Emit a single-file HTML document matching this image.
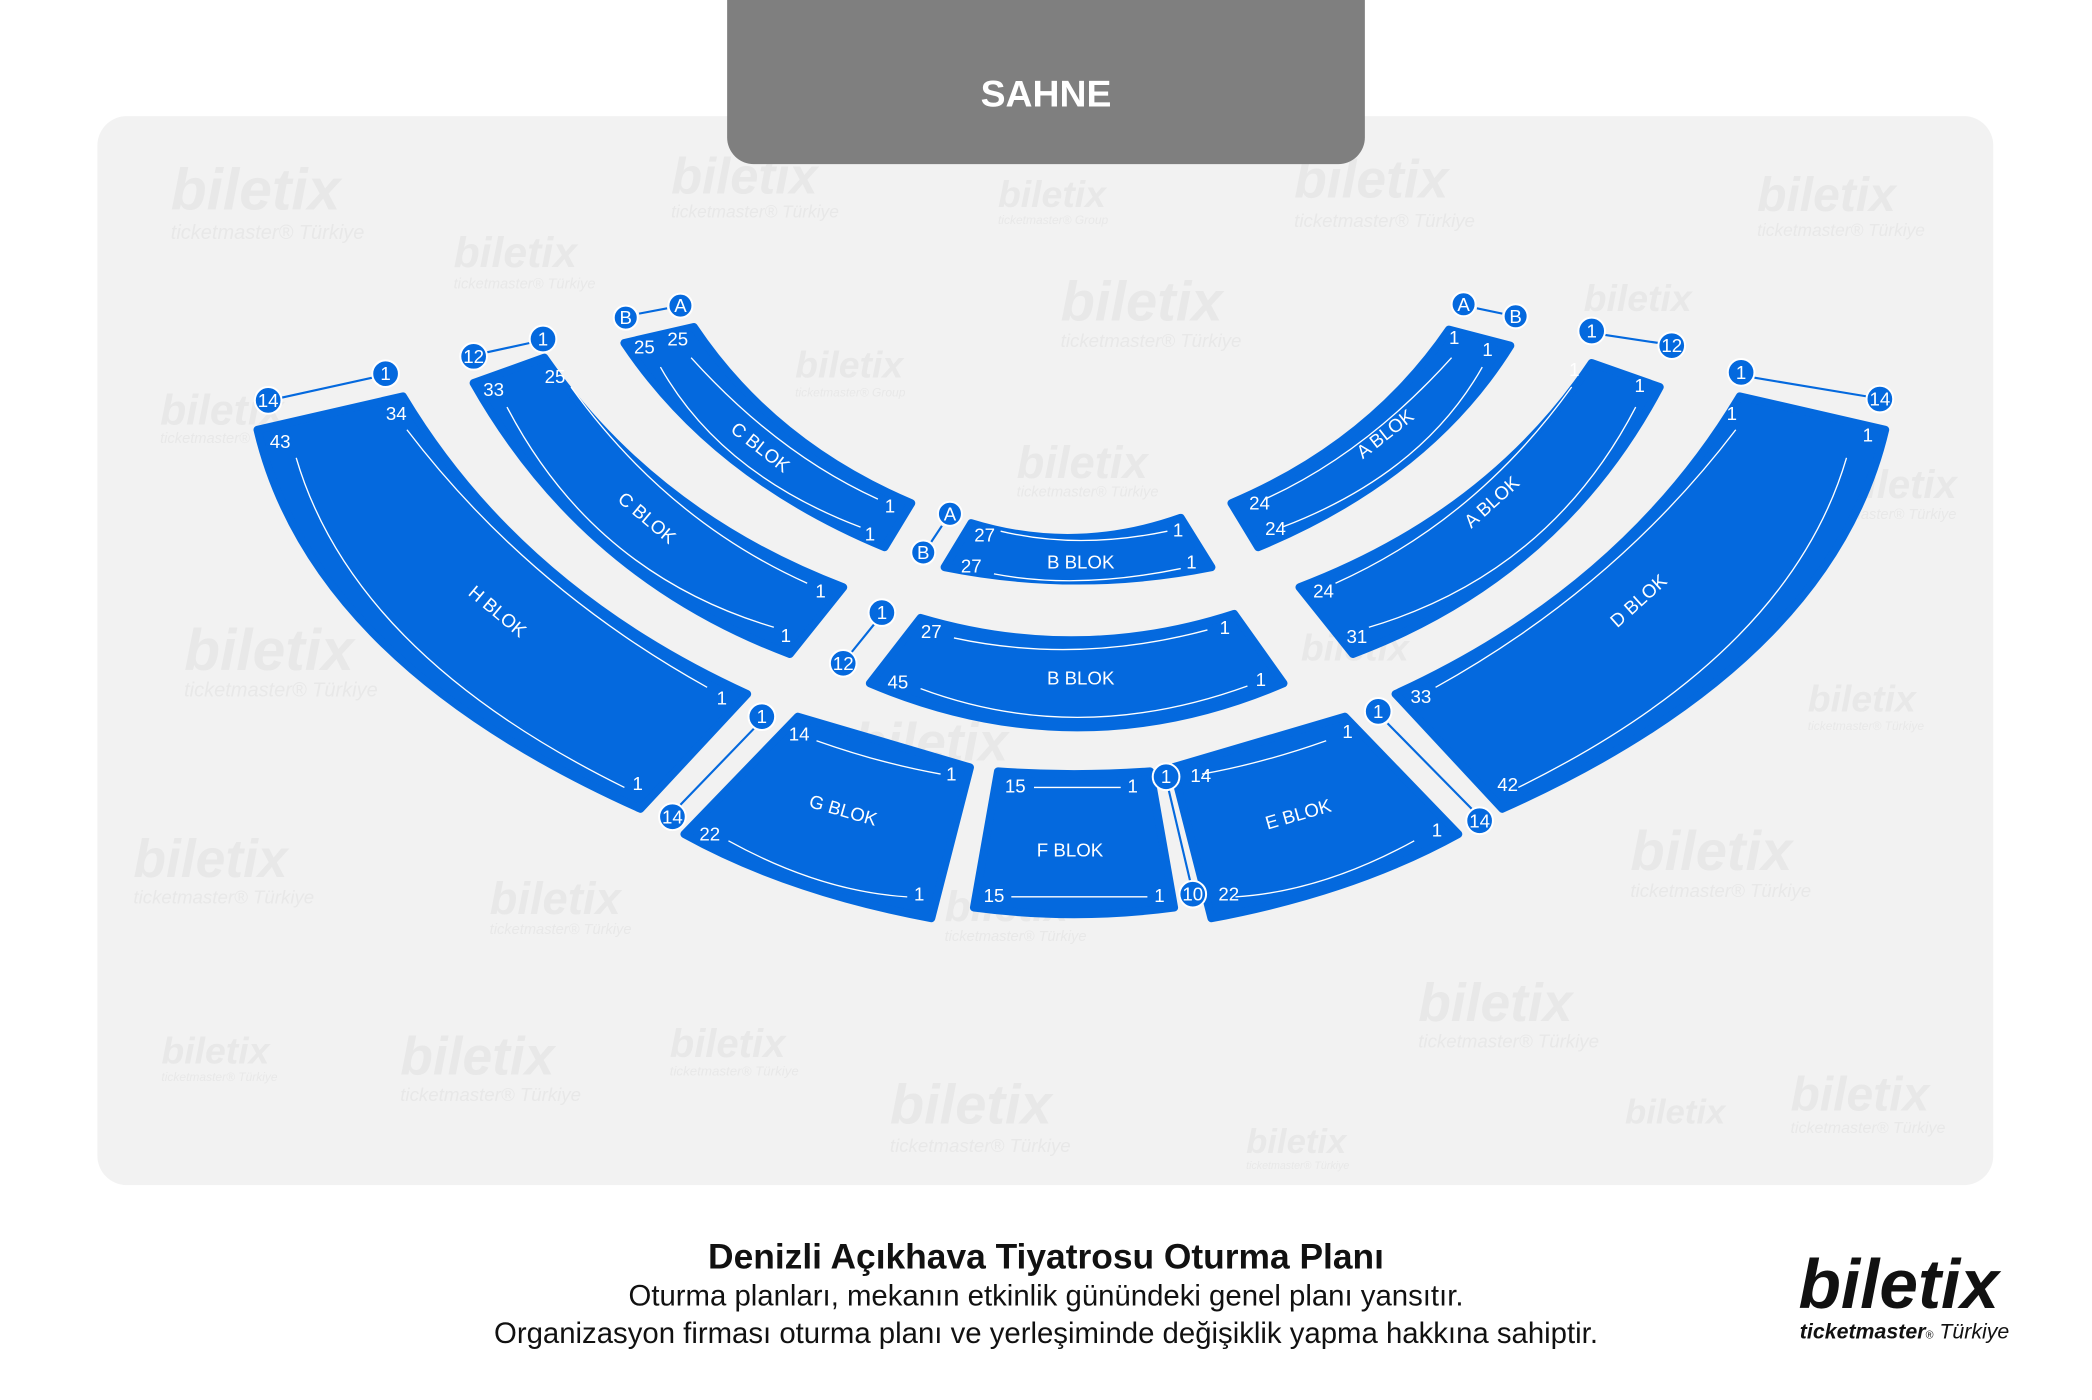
<!DOCTYPE html>
<html><head><meta charset="utf-8"><style>
html,body{margin:0;padding:0;background:#fff;}
svg{display:block;}
text{font-family:"Liberation Sans",sans-serif;}
.n{fill:#fff;font-size:14px;text-anchor:middle;dominant-baseline:central;}
.lb{fill:#fff;font-size:14px;text-anchor:middle;dominant-baseline:central;}
.w{font-weight:bold;font-style:italic;fill:#e8e8e8;}
.wt{font-style:italic;fill:#e8e8e8;}
.blk{fill:#0469de;}
.rl{fill:none;stroke:#fff;stroke-width:1;}
.cl{stroke:#0469de;stroke-width:1.6;}
</style></head><body>
<svg width="2092" height="1400" viewBox="0 0 1568 1049" preserveAspectRatio="none" xmlns="http://www.w3.org/2000/svg">
<rect x="0" y="0" width="1568" height="1049" fill="#fff"/>
<rect x="73" y="87" width="1421" height="801" rx="22" fill="#f2f2f2"/>
<g>
<text class="w" x="128" y="157" font-size="44">biletix</text><text class="wt" x="128" y="179" font-size="15">ticketmaster® Türkiye</text>
<text class="w" x="503" y="145" font-size="38">biletix</text><text class="wt" x="503" y="163" font-size="13">ticketmaster® Türkiye</text>
<text class="w" x="748" y="155" font-size="28">biletix</text><text class="wt" x="748" y="168" font-size="9">ticketmaster® Group</text>
<text class="w" x="970" y="148" font-size="40">biletix</text><text class="wt" x="970" y="170" font-size="14">ticketmaster® Türkiye</text>
<text class="w" x="1317" y="158" font-size="36">biletix</text><text class="wt" x="1317" y="177" font-size="13">ticketmaster® Türkiye</text>
<text class="w" x="340" y="200" font-size="32">biletix</text><text class="wt" x="340" y="216" font-size="11">ticketmaster® Türkiye</text>
<text class="w" x="795" y="240" font-size="42">biletix</text><text class="wt" x="795" y="260" font-size="14">ticketmaster® Türkiye</text>
<text class="w" x="1187" y="233" font-size="28">biletix</text>
<text class="w" x="596" y="283" font-size="28">biletix</text><text class="wt" x="596" y="297" font-size="9">ticketmaster® Group</text>
<text class="w" x="120" y="318" font-size="32">biletix</text><text class="wt" x="120" y="332" font-size="11">ticketmaster®</text>
<text class="w" x="762" y="358" font-size="34">biletix</text><text class="wt" x="762" y="372" font-size="11">ticketmaster® Türkiye</text>
<text class="w" x="1380" y="373" font-size="30">biletix</text><text class="wt" x="1360" y="389" font-size="11">ticketmaster® Türkiye</text>
<text class="w" x="138" y="502" font-size="44">biletix</text><text class="wt" x="138" y="522" font-size="15">ticketmaster® Türkiye</text>
<text class="w" x="975" y="495" font-size="28">biletix</text>
<text class="w" x="1355" y="533" font-size="28">biletix</text><text class="wt" x="1355" y="547" font-size="9">ticketmaster® Türkiye</text>
<text class="w" x="640" y="570" font-size="40">biletix</text>
<text class="w" x="100" y="657" font-size="40">biletix</text><text class="wt" x="100" y="677" font-size="14">ticketmaster® Türkiye</text>
<text class="w" x="1222" y="652" font-size="42">biletix</text><text class="wt" x="1222" y="672" font-size="14">ticketmaster® Türkiye</text>
<text class="w" x="367" y="685" font-size="34">biletix</text><text class="wt" x="367" y="700" font-size="11">ticketmaster® Türkiye</text>
<text class="w" x="708" y="690" font-size="32">biletix</text><text class="wt" x="708" y="705" font-size="11">ticketmaster® Türkiye</text>
<text class="w" x="1063" y="765" font-size="40">biletix</text><text class="wt" x="1063" y="785" font-size="14">ticketmaster® Türkiye</text>
<text class="w" x="121" y="797" font-size="28">biletix</text><text class="wt" x="121" y="810" font-size="9">ticketmaster® Türkiye</text>
<text class="w" x="300" y="805" font-size="40">biletix</text><text class="wt" x="300" y="825" font-size="14">ticketmaster® Türkiye</text>
<text class="w" x="502" y="792" font-size="30">biletix</text><text class="wt" x="502" y="806" font-size="10">ticketmaster® Türkiye</text>
<text class="w" x="667" y="842" font-size="42">biletix</text><text class="wt" x="667" y="863" font-size="14">ticketmaster® Türkiye</text>
<text class="w" x="1218" y="842" font-size="26">biletix</text>
<text class="w" x="1342" y="832" font-size="36">biletix</text><text class="wt" x="1342" y="849" font-size="12">ticketmaster® Türkiye</text>
<text class="w" x="934" y="864" font-size="26">biletix</text><text class="wt" x="934" y="876" font-size="8">ticketmaster® Türkiye</text>
</g>
<rect x="545" y="-20" width="478" height="143" rx="20" fill="#7f7f7f"/>
<text x="784" y="70" fill="#fff" font-size="28" font-weight="bold" text-anchor="middle" dominant-baseline="central">SAHNE</text>

<g>
<path class="blk" d="M193,322 L302,297 Q389,442 560,520 L480,606 Q234,496 193,322 Z" stroke="#0469de" stroke-width="6" stroke-linejoin="round"/>
<path class="rl" d="M305,322 Q395,440 530,515 M222,343 Q265,490 468,590"/>
<path class="blk" d="M355,287 L408,268 Q490,386 632,440 L592,490 Q437,432 355,287 Z" stroke="#0469de" stroke-width="6" stroke-linejoin="round"/>
<path class="rl" d="M428,290 Q500,390 605,437 M380,305 Q445,430 580,470"/>
<path class="blk" d="M468,257 L520,245 Q579,333 683,377 L663,410 Q535,357 468,257 Z" stroke="#0469de" stroke-width="6" stroke-linejoin="round"/>
<path class="rl" d="M518,268 Q583,340 658,374 M495,275 Q540,355 645,395"/>
<path class="blk" d="M598,537 L727,575 L698,688 Q591,668 513,625 Z" stroke="#0469de" stroke-width="6" stroke-linejoin="round"/>
<path class="rl" d="M612,555 Q660,572 705,580 M546,630 Q615,668 680,672"/>
</g>
<g transform="translate(1606,0) scale(-1,1)">
<path class="blk" d="M193,322 L302,297 Q389,442 560,520 L480,606 Q234,496 193,322 Z" stroke="#0469de" stroke-width="6" stroke-linejoin="round"/>
<path class="rl" d="M305,322 Q395,440 530,515 M222,343 Q265,490 468,590"/>
<path class="blk" d="M362,290 L413,272 Q490,386 632,440 L592,490 Q437,432 362,290 Z" stroke="#0469de" stroke-width="6" stroke-linejoin="round"/>
<path class="rl" d="M428,290 Q500,390 605,437 M380,305 Q445,430 580,470"/>
<path class="blk" d="M474,259 L520,247 Q579,333 683,377 L663,410 Q535,357 474,259 Z" stroke="#0469de" stroke-width="6" stroke-linejoin="round"/>
<path class="rl" d="M518,268 Q583,340 658,374 M495,275 Q540,355 645,395"/>
<path class="blk" d="M598,537 L727,575 L698,688 Q591,668 513,625 Z" stroke="#0469de" stroke-width="6" stroke-linejoin="round"/>
<path class="rl" d="M612,555 Q660,572 705,580 M546,630 Q615,668 680,672"/>
</g>
<path class="blk" d="M728,392 Q806,416 885,388 L908,425 Q808,445 708,425 Z" stroke="#0469de" stroke-width="6" stroke-linejoin="round"/>
<path class="rl" d="M750,398 Q808,412 875,398 M745,430 Q808,442 885,426"/>
<path class="blk" d="M690,463 Q808,498 925,460 L962,512 Q808,578 652,512 Z" stroke="#0469de" stroke-width="6" stroke-linejoin="round"/>
<path class="rl" d="M715,478 Q808,498 905,472 M690,516 Q808,560 935,514"/>
<path class="blk" d="M748,578 Q805,582 862,578 L880,680 Q805,690 730,680 Z" stroke="#0469de" stroke-width="6" stroke-linejoin="round"/>
<path class="rl" d="M775,590 H840 M758,672 H860"/>

<g class="cl">
<line x1="211" y1="298" x2="279" y2="283"/>
<line x1="365" y1="264" x2="397" y2="257"/>
<line x1="479" y1="235" x2="500" y2="231"/>
<line x1="706" y1="394" x2="698" y2="406"/>
<line x1="655" y1="468" x2="638" y2="489"/>
<line x1="565" y1="546" x2="510" y2="603"/>
<line x1="876" y1="592" x2="892" y2="660"/>
<line x1="1040" y1="542" x2="1103" y2="606"/>
<line x1="1315" y1="283" x2="1399" y2="297"/>
<line x1="1203" y1="251" x2="1243" y2="257"/>
<line x1="1107" y1="231" x2="1126" y2="235"/>
</g>
<g fill="#0469de" stroke="#fff" stroke-width="1.5">
<circle cx="201" cy="300" r="10"/><circle cx="289" cy="280" r="10"/>
<circle cx="355" cy="267" r="10"/><circle cx="407" cy="254" r="10"/>
<circle cx="469" cy="238" r="9"/><circle cx="510" cy="229" r="9"/>
<circle cx="712" cy="385" r="9"/><circle cx="692" cy="414" r="9"/>
<circle cx="661" cy="459" r="10"/><circle cx="632" cy="497" r="10"/>
<circle cx="571" cy="537" r="10"/><circle cx="504" cy="612" r="10"/>
<circle cx="874" cy="582" r="10"/><circle cx="894" cy="670" r="10"/>
<circle cx="1033" cy="533" r="10"/><circle cx="1109" cy="615" r="10"/>
<circle cx="1305" cy="279" r="10"/><circle cx="1409" cy="299" r="10"/>
<circle cx="1193" cy="248" r="10"/><circle cx="1253" cy="259" r="10"/>
<circle cx="1097" cy="228" r="9"/><circle cx="1136" cy="237" r="9"/>
</g>
<g class="n" font-size="12">
<text x="201" y="300">14</text><text x="289" y="280">1</text>
<text x="355" y="267">12</text><text x="407" y="254">1</text>
<text x="469" y="238">B</text><text x="510" y="229">A</text>
<text x="712" y="385">A</text><text x="692" y="414">B</text>
<text x="661" y="459">1</text><text x="632" y="497">12</text>
<text x="571" y="537">1</text><text x="504" y="612">14</text>
<text x="874" y="582">1</text><text x="894" y="670">10</text>
<text x="1033" y="533">1</text><text x="1109" y="615">14</text>
<text x="1305" y="279">1</text><text x="1409" y="299">14</text>
<text x="1193" y="248">1</text><text x="1253" y="259">12</text>
<text x="1097" y="228">A</text><text x="1136" y="237">B</text>
</g>
<g class="n">
<text x="210" y="331">43</text><text x="297" y="310">34</text><text x="541" y="523">1</text><text x="478" y="587">1</text>
<text x="370" y="292">33</text><text x="416" y="282">25</text><text x="615" y="443">1</text><text x="589" y="476">1</text>
<text x="483" y="260">25</text><text x="508" y="254">25</text><text x="667" y="379">1</text><text x="652" y="400">1</text>
<text x="738" y="401">27</text><text x="883" y="397">1</text><text x="728" y="424">27</text><text x="893" y="421">1</text>
<text x="698" y="473">27</text><text x="918" y="470">1</text><text x="673" y="511">45</text><text x="945" y="509">1</text>
<text x="599" y="550">14</text><text x="713" y="580">1</text><text x="532" y="625">22</text><text x="689" y="670">1</text>
<text x="761" y="589">15</text><text x="849" y="589">1</text><text x="745" y="671">15</text><text x="869" y="671">1</text>
<text x="900" y="581">14</text><text x="1010" y="548">1</text><text x="921" y="670">22</text><text x="1077" y="622">1</text>
<text x="1298" y="310">1</text><text x="1400" y="326">1</text><text x="1065" y="522">33</text><text x="1130" y="588">42</text>
<text x="1180" y="277">1</text><text x="1229" y="289">1</text><text x="992" y="443">24</text><text x="1017" y="477">31</text>
<text x="1090" y="253">1</text><text x="1115" y="262">1</text><text x="944" y="377">24</text><text x="956" y="396">24</text>
</g>
<g class="lb">
<text transform="translate(373,458) rotate(40)">H BLOK</text>
<text transform="translate(485,388) rotate(40)">C BLOK</text>
<text transform="translate(570,335) rotate(38)">C BLOK</text>
<text x="810" y="421">B BLOK</text>
<text x="810" y="508">B BLOK</text>
<text transform="translate(632,607) rotate(16)">G BLOK</text>
<text x="802" y="637">F BLOK</text>
<text transform="translate(973,610) rotate(-16)">E BLOK</text>
<text transform="translate(1228,450) rotate(-42)">D BLOK</text>
<text transform="translate(1118,376) rotate(-42)">A BLOK</text>
<text transform="translate(1038,325) rotate(-38)">A BLOK</text>
</g>
<text x="784" y="942" font-size="26.5" font-weight="bold" fill="#111" text-anchor="middle" dominant-baseline="central">Denizli Açıkhava Tiyatrosu Oturma Planı</text>
<text x="784" y="971" font-size="22" fill="#111" text-anchor="middle" dominant-baseline="central">Oturma planları, mekanın etkinlik günündeki genel planı yansıtır.</text>
<text x="784" y="999" font-size="22" fill="#111" text-anchor="middle" dominant-baseline="central">Organizasyon firması oturma planı ve yerleşiminde değişiklik yapma hakkına sahiptir.</text>
<text x="1348" y="980" font-size="52" font-weight="bold" font-style="italic" fill="#111">biletix</text>
<text x="1349" y="1003" font-size="16" font-style="italic" font-weight="bold" fill="#111">ticketmaster<tspan font-weight="normal" font-size="8">®</tspan><tspan font-weight="normal"> Türkiye</tspan></text>
</svg>
</body></html>
